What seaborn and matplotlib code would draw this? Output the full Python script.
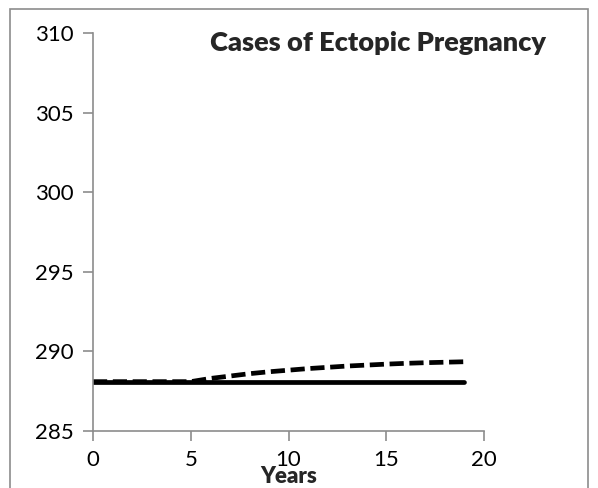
import numpy as np
import pandas as pd
import matplotlib
matplotlib.use("Agg")
import matplotlib.pyplot as plt
import seaborn as sns
from matplotlib.patches import Rectangle

# values
years = list(range(20))
baseline = [288.1] * 20
scenario = [288.1, 288.1, 288.1, 288.1, 288.1, 288.1, 288.3, 288.45, 288.6, 288.72,
            288.82, 288.92, 289.0, 289.08, 289.14, 289.2, 289.25, 289.29, 289.32, 289.35]

df = pd.DataFrame({"Years": years, "baseline": baseline, "scenario": scenario})

sns.set_style("white")
plt.rcParams["font.family"] = ["Lato", "DejaVu Sans"]

fig = plt.figure(figsize=(5.98, 4.88), dpi=100)
ax = fig.add_axes([0.1555, 0.1168, 0.6539, 0.8156])

sns.lineplot(data=df, x="Years", y="baseline", ax=ax, color="black", linewidth=3.4)
sns.lineplot(data=df, x="Years", y="scenario", ax=ax, color="black", linewidth=3.4,
             linestyle=(0, (3.0, 1.2)))

ax.set_xlim(0, 20)
ax.set_ylim(285, 310)
ax.set_xticks([0, 5, 10, 15, 20])
ax.set_yticks([285, 290, 295, 300, 305, 310])

for s in ["top", "right"]:
    ax.spines[s].set_visible(False)
for s in ["left", "bottom"]:
    ax.spines[s].set_color("#8c8c8c")
    ax.spines[s].set_linewidth(1.2)
ax.tick_params(axis="both", direction="out", length=7, width=1.2, color="#8c8c8c",
               labelsize=16, labelcolor="black", bottom=True, left=True)
ax.tick_params(axis="x", pad=7)
ax.tick_params(axis="y", pad=7)

ax.set_ylabel("")
ax.set_xlabel("Years", fontsize=16, fontweight="heavy", labelpad=-3)
ax.set_title("Cases of Ectopic Pregnancy", fontsize=19.5, fontweight="heavy", x=0.73, y=0.935)

# outer chart border
fig.patches.append(Rectangle((10 / 598, -0.01), 578 / 598, 1 - 9 / 488 + 0.01,
                             transform=fig.transFigure, fill=False,
                             edgecolor="#8c8c8c", linewidth=1.2))

fig.savefig("out.png", dpi=100)
